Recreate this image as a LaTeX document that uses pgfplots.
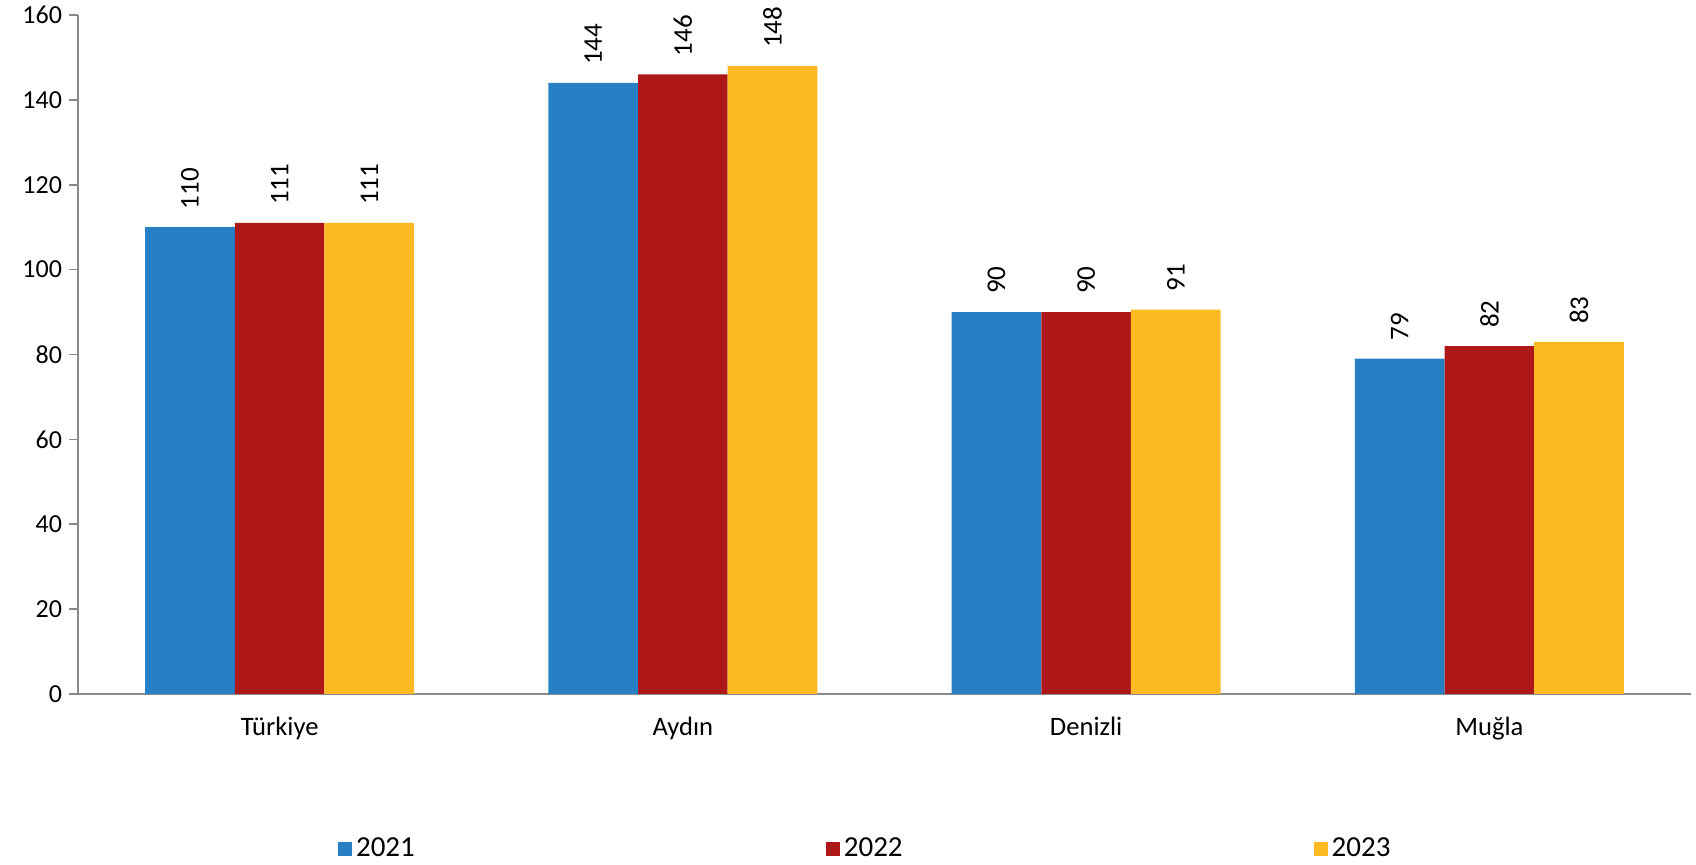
\documentclass[border=0pt]{standalone}
\usepackage{fontspec}
\setmainfont{Carlito}
\usepackage{pgfplots}
\pgfplotsset{compat=1.18}
\definecolor{cblue}{RGB}{39,128,197}
\definecolor{cred}{RGB}{174,23,24}
\definecolor{cyellow}{RGB}{251,186,36}
\definecolor{axgray}{RGB}{137,137,137}
\begin{document}
\begin{tikzpicture}
\path[use as bounding box] (0,0) rectangle (848pt,432.5pt);
\begin{axis}[
  at={(39pt,85.5pt)}, anchor=south west,
  width=806.5pt, height=339.5pt, scale only axis,
  ybar, 
  xmin=-0.5, xmax=3.5, ymin=0, ymax=160,
  axis lines*=left,
  axis line style={axgray, line width=0.8pt},
  every tick/.style={axgray, line width=0.8pt},
  ytick={0,20,...,160},
  tick align=outside,
  major tick length=4.5pt,
  xtick={0,1,2,3},
  xticklabels={Türkiye,Aydın,Denizli,Muğla},
  x tick style={draw=none},
  minor xtick={-0.5,0.5,1.5,2.5,3.5},
  minor x tick style={axgray, line width=0.8pt},
  minor tick length=4pt,
  tick label style={font=\fontsize{13}{15}\selectfont, black},
  xticklabel style={yshift=-3.5pt, font=\fontsize{13.3}{15}\selectfont},
  /pgf/number format/assume math mode=true,
  bar width=44.85pt,
  nodes near coords,
  nodes near coords style={rotate=90, anchor=west, font=\fontsize{13.5}{15}\selectfont, black, xshift=5.5pt,
    /pgf/number format/fixed, /pgf/number format/precision=0},
  legend columns=3,
  legend style={at={(0.4887,-0.228)}, anchor=center, draw=none, font=\fontsize{14.5}{16}\selectfont,
    /tikz/every even column/.style={column sep=203.5pt}},
  legend image code/.code={\fill[#1] (0pt,-3.5pt) rectangle (7pt,3.5pt);},
  clip=false,
]
\addplot[fill=cblue, draw=none, bar shift=-44.85pt] coordinates {(0,110) (1,144) (2,90) (3,79)};
\addplot[fill=cred, draw=none, bar shift=0pt] coordinates {(0,111) (1,146) (2,90) (3,82)};
\addplot[fill=cyellow, draw=none, bar shift=44.85pt] coordinates {(0,111) (1,148) (2,90.6) (3,83)};
\legend{2021,2022,2023}
\end{axis}
\end{tikzpicture}
\end{document}
